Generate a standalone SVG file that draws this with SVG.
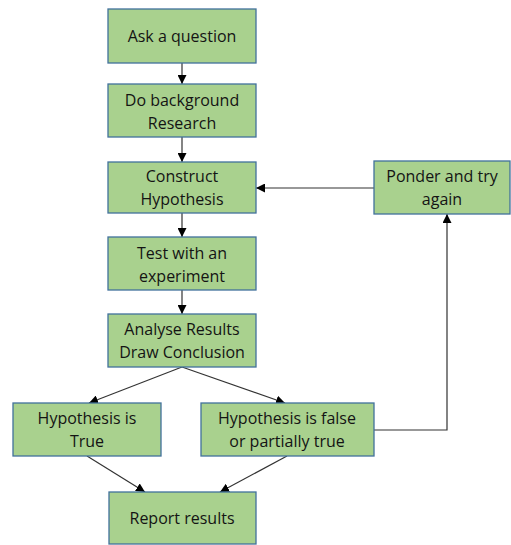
<svg xmlns="http://www.w3.org/2000/svg" width="511" height="545" viewBox="0 0 511 545">
  <defs>
    <marker id="arrow" viewBox="0 0 10 10" refX="10" refY="5" markerWidth="9" markerHeight="9" markerUnits="userSpaceOnUse" orient="auto">
      <path d="M0,0 L10,5 L0,10 z" fill="#000"/>
    </marker>
    <style>
      .box { fill: #a9d18e; stroke: #41719c; stroke-width: 1.3; }
      .lbl { font-family: "Open Sans", "Liberation Sans", sans-serif; font-size: 16px; fill: #141414; text-anchor: middle; }
      .edge { fill: none; stroke: #333; stroke-width: 1.2; marker-end: url(#arrow); }
    </style>
  </defs>
  <rect width="511" height="545" fill="#fff"/>

  <g id="connectors">
    <line class="edge" x1="182" y1="63" x2="182" y2="84"/>
    <line class="edge" x1="182" y1="137" x2="182" y2="162"/>
    <line class="edge" x1="182" y1="213" x2="182" y2="237"/>
    <line class="edge" x1="182" y1="290" x2="182" y2="314"/>
    <line class="edge" x1="182" y1="367" x2="89" y2="403"/>
    <line class="edge" x1="182" y1="367" x2="285" y2="403"/>
    <line class="edge" x1="87" y1="456" x2="145" y2="492"/>
    <line class="edge" x1="287" y1="456" x2="220" y2="492"/>
    <polyline class="edge" points="374,430 447,430 447,214"/>
    <line class="edge" x1="374" y1="188" x2="256" y2="188"/>
  </g>

  <g id="ask">
    <rect class="box" x="108" y="9" width="148" height="54"/>
    <text class="lbl" x="182" y="42">Ask a question</text>
  </g>
  <g id="research">
    <rect class="box" x="108" y="84" width="148" height="53"/>
    <text class="lbl" x="182" y="106">Do background</text>
    <text class="lbl" x="182" y="129">Research</text>
  </g>
  <g id="hypothesis">
    <rect class="box" x="108" y="162" width="148" height="51"/>
    <text class="lbl" x="182" y="182">Construct</text>
    <text class="lbl" x="182" y="205">Hypothesis</text>
  </g>
  <g id="experiment">
    <rect class="box" x="108" y="237" width="148" height="53"/>
    <text class="lbl" x="182" y="259">Test with an</text>
    <text class="lbl" x="182" y="282">experiment</text>
  </g>
  <g id="analyse">
    <rect class="box" x="108" y="314" width="148" height="53"/>
    <text class="lbl" x="182" y="335">Analyse Results</text>
    <text class="lbl" x="182" y="358">Draw Conclusion</text>
  </g>
  <g id="true">
    <rect class="box" x="13" y="403" width="148" height="53"/>
    <text class="lbl" x="87" y="424">Hypothesis is</text>
    <text class="lbl" x="87" y="447">True</text>
  </g>
  <g id="false">
    <rect class="box" x="201" y="403" width="173" height="53"/>
    <text class="lbl" x="287" y="424">Hypothesis is false</text>
    <text class="lbl" x="287" y="447">or partially true</text>
  </g>
  <g id="ponder">
    <rect class="box" x="374" y="161" width="136" height="53"/>
    <text class="lbl" x="442" y="182">Ponder and try</text>
    <text class="lbl" x="442" y="205">again</text>
  </g>
  <g id="report">
    <rect class="box" x="109" y="492" width="147" height="52"/>
    <text class="lbl" x="182" y="524">Report results</text>
  </g>
</svg>
